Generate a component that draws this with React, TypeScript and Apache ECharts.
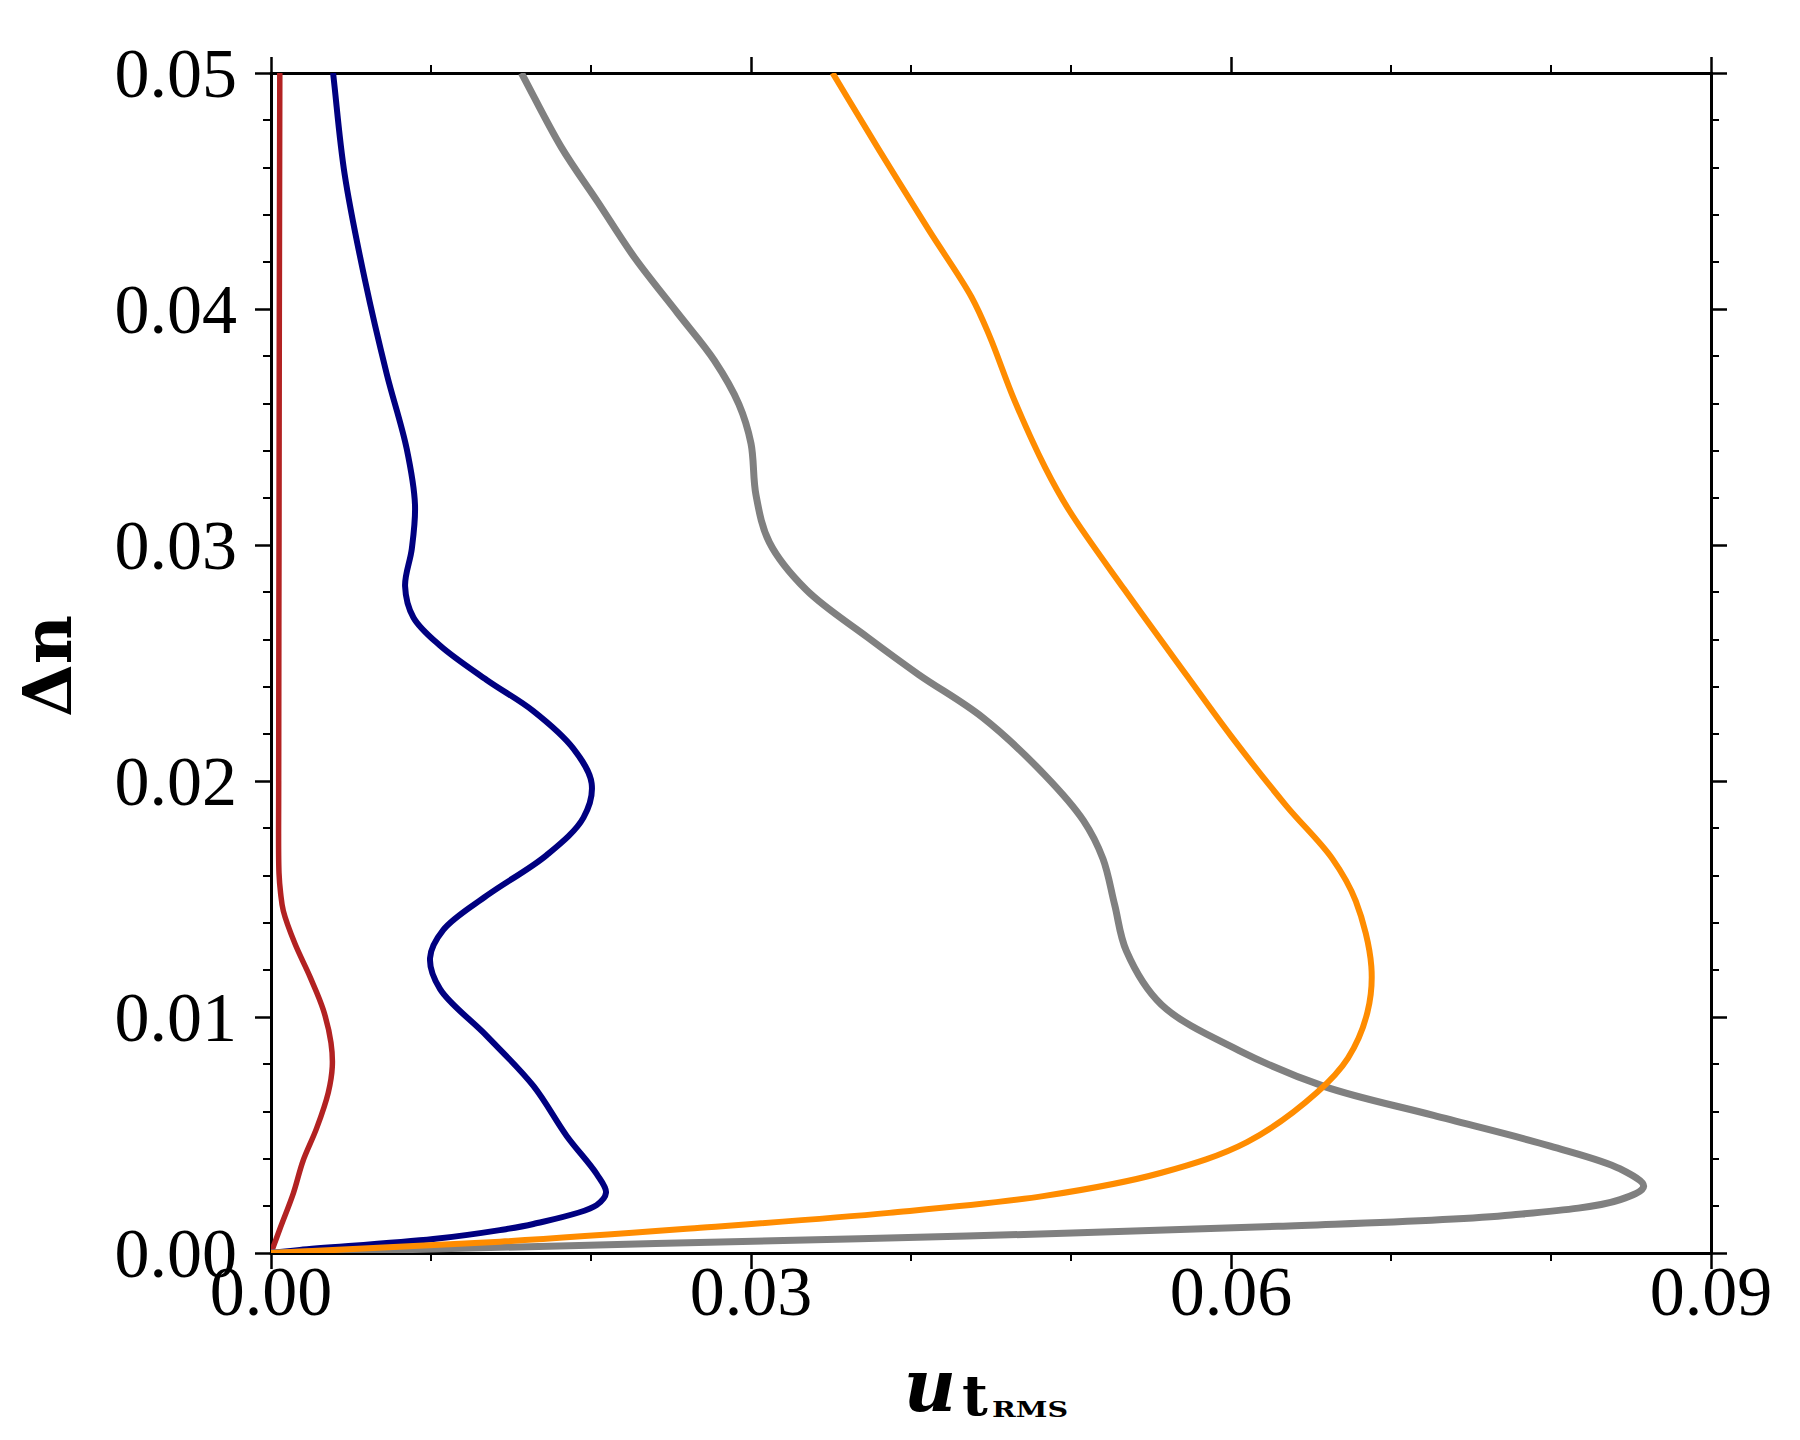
import React, { useEffect, useRef } from "react";
import * as echarts from "echarts";

// ---- data: [u_tRMS, Δn] ----
const redCurve: [number, number][] = [
  [0, 0], [0.0006, 0.0011], [0.0014, 0.00254], [0.002, 0.0039], [0.00286, 0.0053],
  [0.00358, 0.0068], [0.00383, 0.0079], [0.00375, 0.0089], [0.00327, 0.0103],
  [0.00244, 0.0117], [0.0015, 0.0131], [0.00077, 0.0145], [0.0006, 0.01525],
  [0.0005, 0.0161], [0.00048, 0.02], [0.0005, 0.03], [0.00052, 0.04], [0.00055, 0.05],
];

const navyCurve: [number, number][] = [
  [0, 0], [0.0018, 0.00013], [0.01014, 0.00059], [0.0143, 0.00097], [0.0164, 0.00123],
  [0.02035, 0.00203], [0.02094, 0.00256], [0.02035, 0.00335], [0.01848, 0.00496],
  [0.0164, 0.00708], [0.01348, 0.0092], [0.01056, 0.01119], [0.00994, 0.0125],
  [0.01077, 0.01369], [0.01348, 0.01514], [0.01723, 0.01686], [0.01953, 0.01845],
  [0.02004, 0.0199], [0.0189, 0.02137], [0.0164, 0.02296], [0.01348, 0.02428],
  [0.01056, 0.02574], [0.0089, 0.02693], [0.00838, 0.02826], [0.0088, 0.02984],
  [0.009, 0.0317], [0.00848, 0.03408], [0.00723, 0.03726], [0.00588, 0.0412],
  [0.0046, 0.04572], [0.00388, 0.05],
];

const grayCurve: [number, number][] = [
  [0, 0], [0.01431, 0.00024], [0.02404, 0.0004], [0.04349, 0.00072], [0.06294, 0.00113],
  [0.07752, 0.00161], [0.08433, 0.00226], [0.08579, 0.00283], [0.08433, 0.00356],
  [0.07996, 0.00453], [0.07266, 0.00583], [0.06586, 0.00705], [0.06051, 0.00858],
  [0.05564, 0.01053], [0.05346, 0.0128], [0.05273, 0.01475], [0.052, 0.0167],
  [0.05078, 0.01832], [0.04835, 0.02026], [0.04446, 0.0227], [0.0405, 0.0245],
  [0.03728, 0.02609], [0.03345, 0.0281], [0.03115, 0.03011], [0.03031, 0.03212],
  [0.03, 0.0343], [0.02924, 0.03597], [0.02771, 0.03782], [0.02541, 0.03983],
  [0.02273, 0.04217], [0.02044, 0.04452], [0.01814, 0.04686], [0.01565, 0.05],
];

const orangeCurve: [number, number][] = [
  [0, 0], [0.01431, 0.00048], [0.02647, 0.00105], [0.03863, 0.0017], [0.04835, 0.00242],
  [0.05565, 0.0034], [0.061, 0.0047], [0.06537, 0.0068], [0.06731, 0.00826],
  [0.06853, 0.01021], [0.06877, 0.01215], [0.0678, 0.01491], [0.06634, 0.0167],
  [0.06343, 0.01897], [0.06002, 0.02189], [0.0572, 0.0245], [0.05335, 0.0281],
  [0.0499, 0.03145], [0.04838, 0.03329], [0.04646, 0.03614], [0.04493, 0.03882],
  [0.04378, 0.04051], [0.04111, 0.04335], [0.03804, 0.0467], [0.0351, 0.05],
];

const xTicks = { min: 0, max: 0.09, step: 0.03, minorSplit: 3 };
const yTicks = { min: 0, max: 0.05, step: 0.01, minorSplit: 5 };

const FONT = "'Liberation Serif', 'DejaVu Serif', serif";
const TITLE_FONT = "'DejaVu Serif', 'Liberation Serif', serif";

function makeAxis(kind: "x" | "y", position: string, showLabel: boolean, t: typeof xTicks) {
  return {
    type: "value",
    position,
    min: t.min,
    max: t.max,
    interval: t.step,
    axisLine: { show: true, onZero: false, lineStyle: { color: "#000", width: 3 } },
    axisTick: { show: true, inside: false, length: 16, lineStyle: { color: "#000", width: 2.5 } },
    minorTick: { show: true, splitNumber: t.minorSplit, length: 8, lineStyle: { color: "#000", width: 2 } },
    splitLine: { show: false },
    minorSplitLine: { show: false },
    axisLabel: {
      show: showLabel,
      fontFamily: FONT,
      fontSize: 70,
      lineHeight: 40,
      color: "#000",
      margin: kind === "x" ? 18 : 34,
      formatter: (v: number) => v.toFixed(2),
    },
  };
}

// centripetal Catmull-Rom through pixel points -> cubic Bezier path
function curvePath(p: number[][]): string {
  const n = p.length;
  let d = `M${p[0][0].toFixed(2)},${p[0][1].toFixed(2)}`;
  for (let i = 0; i < n - 1; i++) {
    const p0 = p[i - 1] || p[i];
    const p1 = p[i];
    const p2 = p[i + 1];
    const p3 = p[i + 2] || p[i + 1];
    const d1 = Math.sqrt(Math.hypot(p1[0] - p0[0], p1[1] - p0[1]));
    const d2 = Math.sqrt(Math.hypot(p2[0] - p1[0], p2[1] - p1[1]));
    const d3 = Math.sqrt(Math.hypot(p3[0] - p2[0], p3[1] - p2[1]));
    let b1 = p1;
    let b2 = p2;
    if (d1 > 1e-6 && d2 > 1e-6) {
      const a = d1 * d1, b = d2 * d2, c = 2 * a + 3 * d1 * d2 + b, m = 3 * d1 * (d1 + d2);
      b1 = [(a * p2[0] - b * p0[0] + c * p1[0]) / m, (a * p2[1] - b * p0[1] + c * p1[1]) / m];
    } else {
      b1 = [p1[0] + (p2[0] - p1[0]) / 3, p1[1] + (p2[1] - p1[1]) / 3];
    }
    if (d3 > 1e-6 && d2 > 1e-6) {
      const a = d3 * d3, b = d2 * d2, c = 2 * a + 3 * d3 * d2 + b, m = 3 * d3 * (d3 + d2);
      b2 = [(a * p1[0] - b * p3[0] + c * p2[0]) / m, (a * p1[1] - b * p3[1] + c * p2[1]) / m];
    } else {
      b2 = [p2[0] - (p2[0] - p1[0]) / 3, p2[1] - (p2[1] - p1[1]) / 3];
    }
    d += ` C${b1[0].toFixed(2)},${b1[1].toFixed(2)} ${b2[0].toFixed(2)},${b2[1].toFixed(2)} ${p2[0].toFixed(2)},${p2[1].toFixed(2)}`;
  }
  return d;
}

export default function App() {
  const ref = useRef<HTMLDivElement>(null);
  useEffect(() => {
    if (!ref.current) return;
    const chart = echarts.init(ref.current, undefined, { renderer: "svg" });
    const curve = (name: string, data: [number, number][], color: string, width: number) => ({
      type: "custom",
      name,
      data,
      encode: { x: 0, y: 1 },
      clip: true,
      silent: true,
      renderItem: (params: any, api: any) => {
        if (params.dataIndex !== 0) return null;
        const px = data.map((d) => api.coord(d));
        return {
          type: "path",
          shape: { pathData: curvePath(px) },
          style: { stroke: color, lineWidth: width, fill: "none", lineJoin: "round", lineCap: "butt" },
        };
      },
    });
    chart.setOption({
      animation: false,
      backgroundColor: "#fff",
      grid: { left: 271, top: 73, width: 1440, height: 1180, containLabel: false },
      xAxis: [makeAxis("x", "bottom", true, xTicks), makeAxis("x", "top", false, xTicks)],
      yAxis: [makeAxis("y", "left", true, yTicks), makeAxis("y", "right", false, yTicks)],
      series: [
        curve("red", redCurve, "#B22222", 5.5),
        curve("navy", navyCurve, "#000080", 6),
        curve("gray", grayCurve, "#808080", 7),
        curve("orange", orangeCurve, "#FF8C00", 6),
      ],
      graphic: [
        {
          type: "text",
          x: 47,
          y: 666,
          rotation: Math.PI / 2,
          style: {
            text: "Δn",
            fontFamily: TITLE_FONT,
            fontWeight: "bold",
            fontSize: 68,
            fill: "#000",
            align: "center",
            verticalAlign: "middle",
          },
        },
        {
          type: "text",
          x: 930,
          y: 1385,
          style: {
            text: "u",
            fontFamily: TITLE_FONT,
            fontWeight: "bold",
            fontStyle: "italic",
            fontSize: 72,
            fill: "#000",
            align: "center",
            verticalAlign: "middle",
          },
        },
        {
          type: "text",
          x: 975,
          y: 1395,
          style: {
            text: "t",
            fontFamily: TITLE_FONT,
            fontWeight: "bold",
            fontSize: 56,
            fill: "#000",
            align: "center",
            verticalAlign: "middle",
          },
        },
        {
          type: "text",
          x: 992,
          y: 1409,
          scaleX: 1.3,
          style: {
            text: "RMS",
            fontFamily: TITLE_FONT,
            fontWeight: "bold",
            fontSize: 22,
            fill: "#000",
            align: "left",
            verticalAlign: "middle",
          },
        },
      ],
    });
    return () => chart.dispose();
  }, []);
  return (
    <div
      ref={ref}
      style={{ position: "absolute", left: 0, top: 0, width: 1800, height: 1440, background: "#fff" }}
    />
  );
}
